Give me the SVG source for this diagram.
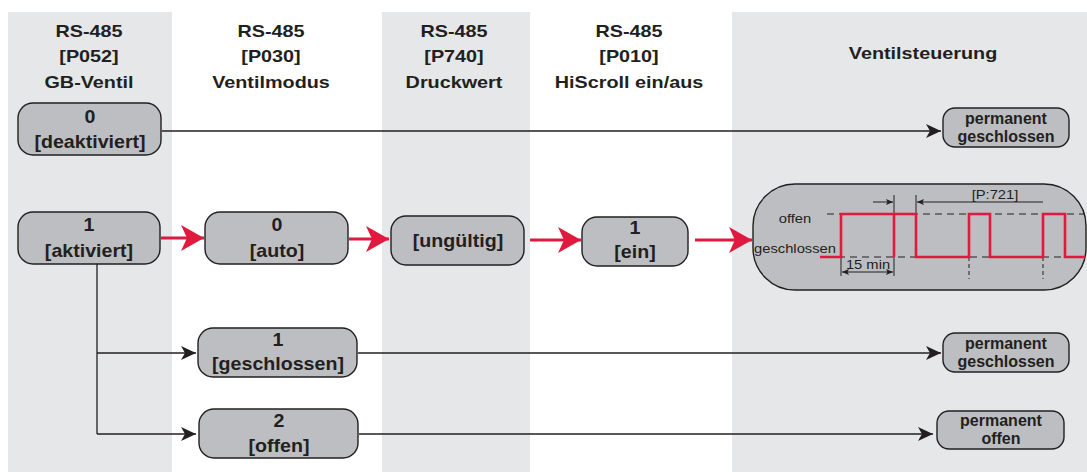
<svg xmlns="http://www.w3.org/2000/svg" width="1087" height="472" viewBox="0 0 1087 472">
<defs>
<style>
.band{fill:#e6e7e8}
.node{fill:#bdbec1;stroke:#231f20;stroke-width:1.4}
.hdr{font-family:"Liberation Sans",Arial,sans-serif;font-weight:bold;font-size:16.5px;fill:#231f20;text-anchor:middle}
.nt{font-family:"Liberation Sans",Arial,sans-serif;font-weight:bold;font-size:18px;fill:#231f20;text-anchor:middle}
.pt{font-family:"Liberation Sans",Arial,sans-serif;font-weight:bold;font-size:16px;fill:#231f20;text-anchor:middle}
.tt{font-family:"Liberation Sans",Arial,sans-serif;font-size:12.5px;fill:#231f20;text-anchor:middle}
.blk{fill:none;stroke:#231f20;stroke-width:1.3}
.red{fill:none;stroke:#e0193f;stroke-width:3}
.sig{fill:none;stroke:#e0193f;stroke-width:2.6}
.dash{fill:none;stroke:#231f20;stroke-width:1;stroke-dasharray:7 5}
.vd{fill:none;stroke:#231f20;stroke-width:1;stroke-dasharray:4 3}
.dim{fill:none;stroke:#231f20;stroke-width:1}
</style>
<marker id="ab" markerUnits="userSpaceOnUse" markerWidth="16" markerHeight="14" refX="15" refY="7" orient="auto">
<path d="M0,0 L15,7 L0,14 L4,7 Z" fill="#231f20"/>
</marker>
<marker id="ar" markerUnits="userSpaceOnUse" markerWidth="24" markerHeight="26" refX="23" refY="13" orient="auto">
<path d="M0,0 L23,13 L0,26 L6,13 Z" fill="#e0193f"/>
</marker>
<marker id="ad" markerUnits="userSpaceOnUse" markerWidth="8" markerHeight="6" refX="7" refY="3" orient="auto-start-reverse">
<path d="M0,0 L7,3 L0,6 L1.5,3 Z" fill="#231f20"/>
</marker>
</defs>

<rect x="0" y="0" width="1087" height="472" fill="#ffffff"/>
<g id="bands">
<rect class="band" x="8" y="12" width="164" height="460"/>
<rect class="band" x="382" y="12" width="148" height="460"/>
<rect class="band" x="732" y="12" width="355" height="460"/>
</g>

<g id="headers">
<text class="hdr" transform="translate(89 0) scale(1.2 1)" x="0" y="37">RS-485</text>
<text class="hdr" transform="translate(89 0) scale(1.2 1)" x="0" y="62">[P052]</text>
<text class="hdr" transform="translate(89 0) scale(1.2 1)" x="0" y="88">GB-Ventil</text>
<text class="hdr" transform="translate(271 0) scale(1.2 1)" x="0" y="37">RS-485</text>
<text class="hdr" transform="translate(271 0) scale(1.2 1)" x="0" y="62">[P030]</text>
<text class="hdr" transform="translate(271 0) scale(1.2 1)" x="0" y="88">Ventilmodus</text>
<text class="hdr" transform="translate(454 0) scale(1.2 1)" x="0" y="37">RS-485</text>
<text class="hdr" transform="translate(454 0) scale(1.2 1)" x="0" y="62">[P740]</text>
<text class="hdr" transform="translate(454 0) scale(1.2 1)" x="0" y="88">Druckwert</text>
<text class="hdr" transform="translate(629 0) scale(1.2 1)" x="0" y="37">RS-485</text>
<text class="hdr" transform="translate(629 0) scale(1.2 1)" x="0" y="62">[P010]</text>
<text class="hdr" transform="translate(629 0) scale(1.2 1)" x="0" y="88">HiScroll ein/aus</text>
<text class="hdr" transform="translate(923 0) scale(1.2 1)" x="0" y="59">Ventilsteuerung</text>
</g>

<g id="connectors">
<line class="blk" x1="162" y1="131" x2="941" y2="131" marker-end="url(#ab)"/>
<polyline class="blk" points="97,259 97,434"/>
<line class="blk" x1="97" y1="353" x2="196" y2="353" marker-end="url(#ab)"/>
<line class="blk" x1="97" y1="434" x2="196" y2="434" marker-end="url(#ab)"/>
<line class="blk" x1="358" y1="353" x2="941" y2="353" marker-end="url(#ab)"/>
<line class="blk" x1="359" y1="434" x2="933" y2="434" marker-end="url(#ab)"/>
<line class="red" x1="161" y1="238" x2="204" y2="238" marker-end="url(#ar)"/>
<line class="red" x1="349" y1="239" x2="389" y2="239" marker-end="url(#ar)"/>
<line class="red" x1="530" y1="240" x2="581" y2="240" marker-end="url(#ar)"/>
<line class="red" x1="695" y1="240" x2="752" y2="240" marker-end="url(#ar)"/>
</g>

<g id="n-deaktiviert">
<rect class="node" x="18" y="103" width="143" height="52" rx="15"/>
<text class="nt" transform="translate(90 0) scale(1.09 1)" x="0" y="123">0</text>
<text class="nt" transform="translate(90 0) scale(1.09 1)" x="0" y="148">[deaktiviert]</text>
</g>
<g id="n-aktiviert">
<rect class="node" x="18" y="212" width="142" height="52" rx="15"/>
<text class="nt" transform="translate(89 0) scale(1.09 1)" x="0" y="231">1</text>
<text class="nt" transform="translate(89 0) scale(1.09 1)" x="0" y="257">[aktiviert]</text>
</g>
<g id="n-auto">
<rect class="node" x="205" y="212" width="143" height="52" rx="15"/>
<text class="nt" transform="translate(277 0) scale(1.09 1)" x="0" y="231">0</text>
<text class="nt" transform="translate(277 0) scale(1.09 1)" x="0" y="257">[auto]</text>
</g>
<g id="n-ungueltig">
<rect class="node" x="391" y="216" width="133" height="49" rx="15"/>
<text class="nt" transform="translate(458 0) scale(1.09 1)" x="0" y="247">[ungültig]</text>
</g>
<g id="n-ein">
<rect class="node" x="582" y="217" width="106" height="49" rx="15"/>
<text class="nt" transform="translate(635 0) scale(1.09 1)" x="0" y="234">1</text>
<text class="nt" transform="translate(635 0) scale(1.09 1)" x="0" y="258">[ein]</text>
</g>
<g id="n-geschlossen">
<rect class="node" x="198" y="328" width="159" height="49" rx="15"/>
<text class="nt" transform="translate(278 0) scale(1.09 1)" x="0" y="346">1</text>
<text class="nt" transform="translate(278 0) scale(1.09 1)" x="0" y="370">[geschlossen]</text>
</g>
<g id="n-offen">
<rect class="node" x="199" y="409" width="159" height="49" rx="15"/>
<text class="nt" transform="translate(279 0) scale(1.09 1)" x="0" y="427">2</text>
<text class="nt" transform="translate(279 0) scale(1.09 1)" x="0" y="452">[offen]</text>
</g>
<g id="n-perm-geschlossen-1">
<rect class="node" x="943" y="108" width="126" height="39" rx="12"/>
<text class="pt" x="1006" y="124">permanent</text>
<text class="pt" x="1006" y="142">geschlossen</text>
</g>
<g id="n-perm-geschlossen-2">
<rect class="node" x="943" y="333" width="126" height="39" rx="12"/>
<text class="pt" x="1006" y="349">permanent</text>
<text class="pt" x="1006" y="367">geschlossen</text>
</g>
<g id="n-perm-offen">
<rect class="node" x="937" y="411" width="127" height="38" rx="12"/>
<text class="pt" x="1001" y="426">permanent</text>
<text class="pt" x="1001" y="444">offen</text>
</g>

<g id="n-timing">
<rect class="node" x="753" y="184" width="333" height="106" rx="42"/>
<line class="dash" x1="827" y1="214" x2="1085" y2="214"/>
<line class="dash" x1="838" y1="257" x2="1085" y2="257"/>
<line class="vd" x1="969" y1="257" x2="969" y2="279"/>
<line class="vd" x1="1043" y1="257" x2="1043" y2="279"/>
<line class="dim" x1="841" y1="257" x2="841" y2="276"/>
<line class="dim" x1="894" y1="257" x2="894" y2="276"/>
<line class="dim" x1="842" y1="272" x2="893" y2="272" marker-start="url(#ad)" marker-end="url(#ad)"/>
<line class="dim" x1="894" y1="195" x2="894" y2="214"/>
<line class="dim" x1="916" y1="195" x2="916" y2="214"/>
<line class="dim" x1="873" y1="202" x2="893" y2="202" marker-end="url(#ad)"/>
<line class="dim" x1="1043" y1="202" x2="917" y2="202" marker-end="url(#ad)"/>
<path class="sig" d="M820,257 H841 V214 H916 V257 H969 V214 H990 V257 H1043 V214 H1065 V257 H1085"/>
<path class="sig" d="M894,214 V257"/>
<text class="tt" transform="translate(795 0) scale(1.18 1)" x="0" y="223">offen</text>
<text class="tt" transform="translate(795 0) scale(1.18 1)" x="0" y="253">geschlossen</text>
<text class="tt" transform="translate(868 0) scale(1.18 1)" x="0" y="269">15 min</text>
<text class="tt" transform="translate(995 0) scale(1.18 1)" x="0" y="199">[P:721]</text>
</g>
</svg>
